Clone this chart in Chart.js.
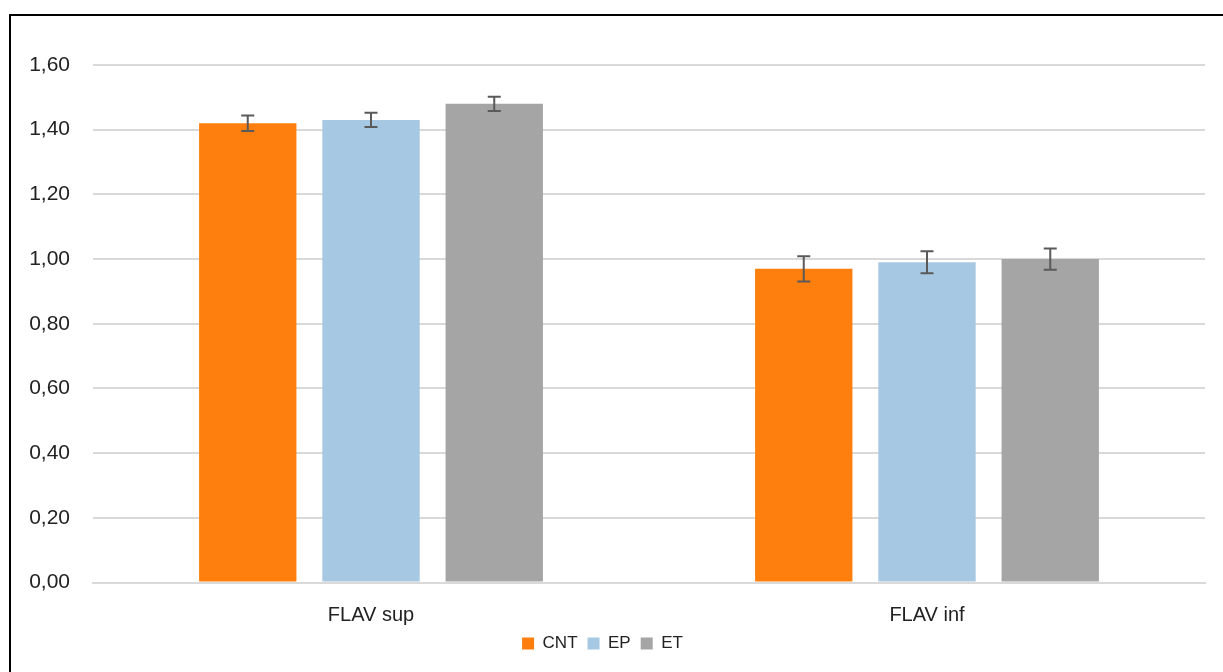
<!DOCTYPE html>
<html lang="it">
<head>
  <meta charset="UTF-8">
  <title>FLAV</title>
  <script src="https://cdn.jsdelivr.net/npm/chart.js"></script>
  <style>
    body {
      margin: 0;
      background: #fff;
      overflow: hidden;
    }

    .frame {
      position: absolute;
      left: 9px;
      top: 14px;
      width: 1400px;
      height: 800px;
      border: 2px solid #000;
      pointer-events: none;
    }

    #chart {
      position: absolute;
      left: 0;
      top: 0;
    }
  </style>
</head>
<body>

  <div class="frame"></div>
  <canvas id="chart" width="1223" height="672"></canvas>

  <script>
    const categories = ['FLAV sup', 'FLAV inf'];
    const seriesNames = ['CNT', 'EP', 'ET'];

    const cntValues = [1.42, 0.97];
    const epValues = [1.43, 0.99];
    const etValues = [1.48, 1.00];

    const cntErrors = [0.024, 0.039];
    const epErrors = [0.022, 0.034];
    const etErrors = [0.022, 0.033];

    const yTicks = [0, 0.2, 0.4, 0.6, 0.8, 1.0, 1.2, 1.4, 1.6];

    const colors = ['#ff7f0e', '#a7c8e2', '#a5a5a5'];
    const errors = [cntErrors, epErrors, etErrors];

    // error bars drawn through the y scale
    const errorBars = {
      id: 'errorBars',
      afterDatasetsDraw(chart) {
        const ctx = chart.ctx;
        const y = chart.scales.y;
        ctx.save();
        ctx.strokeStyle = '#5a5a5a';
        ctx.lineWidth = 2;
        chart.data.datasets.forEach((ds, i) => {
          const meta = chart.getDatasetMeta(i);
          meta.data.forEach((bar, j) => {
            const v = ds.data[j];
            const e = errors[i][j];
            const top = y.getPixelForValue(v + e);
            const bottom = y.getPixelForValue(v - e);
            const x = bar.x;
            ctx.beginPath();
            ctx.moveTo(x, top);
            ctx.lineTo(x, bottom);
            ctx.moveTo(x - 6.5, top);
            ctx.lineTo(x + 6.5, top);
            ctx.moveTo(x - 6.5, bottom);
            ctx.lineTo(x + 6.5, bottom);
            ctx.stroke();
          });
        });
        ctx.restore();
      }
    };

    const font = "'Liberation Sans', Arial, sans-serif";

    new Chart(document.getElementById('chart'), {
      type: 'bar',
      data: {
        labels: categories,
        datasets: [
          { label: seriesNames[0], data: cntValues, backgroundColor: colors[0] },
          { label: seriesNames[1], data: epValues, backgroundColor: colors[1] },
          { label: seriesNames[2], data: etValues, backgroundColor: colors[2] }
        ]
      },
      options: {
        responsive: false,
        animation: false,
        categoryPercentage: 0.665,
        barPercentage: 0.79,
        layout: {
          padding: { left: 0, right: 18, top: 65, bottom: 10 }
        },
        plugins: {
          legend: {
            position: 'bottom',
            labels: {
              boxWidth: 12,
              boxHeight: 12,
              padding: 10,
              color: '#222',
              font: { family: font, size: 17 }
            }
          },
          tooltip: { enabled: false }
        },
        scales: {
          x: {
            afterFit(scale) { scale.height = 42.5; },
            grid: { display: false, drawTicks: false },
            border: { color: '#d9d9d9', width: 2 },
            ticks: {
              padding: 21,
              color: '#222',
              font: { family: font, size: 20 }
            }
          },
          y: {
            min: 0,
            max: 1.6,
            afterFit(scale) { scale.width = 93; },
            afterBuildTicks(scale) {
              scale.ticks = yTicks.map(v => ({ value: v }));
            },
            grid: { color: '#d9d9d9', lineWidth: 2, drawTicks: false },
            border: { display: false },
            ticks: {
              padding: 23,
              color: '#222',
              font: { family: font, size: 21 },
              callback: v => v.toFixed(2).replace('.', ',')
            }
          }
        }
      },
      plugins: [errorBars]
    });
  </script>
</body>
</html>
